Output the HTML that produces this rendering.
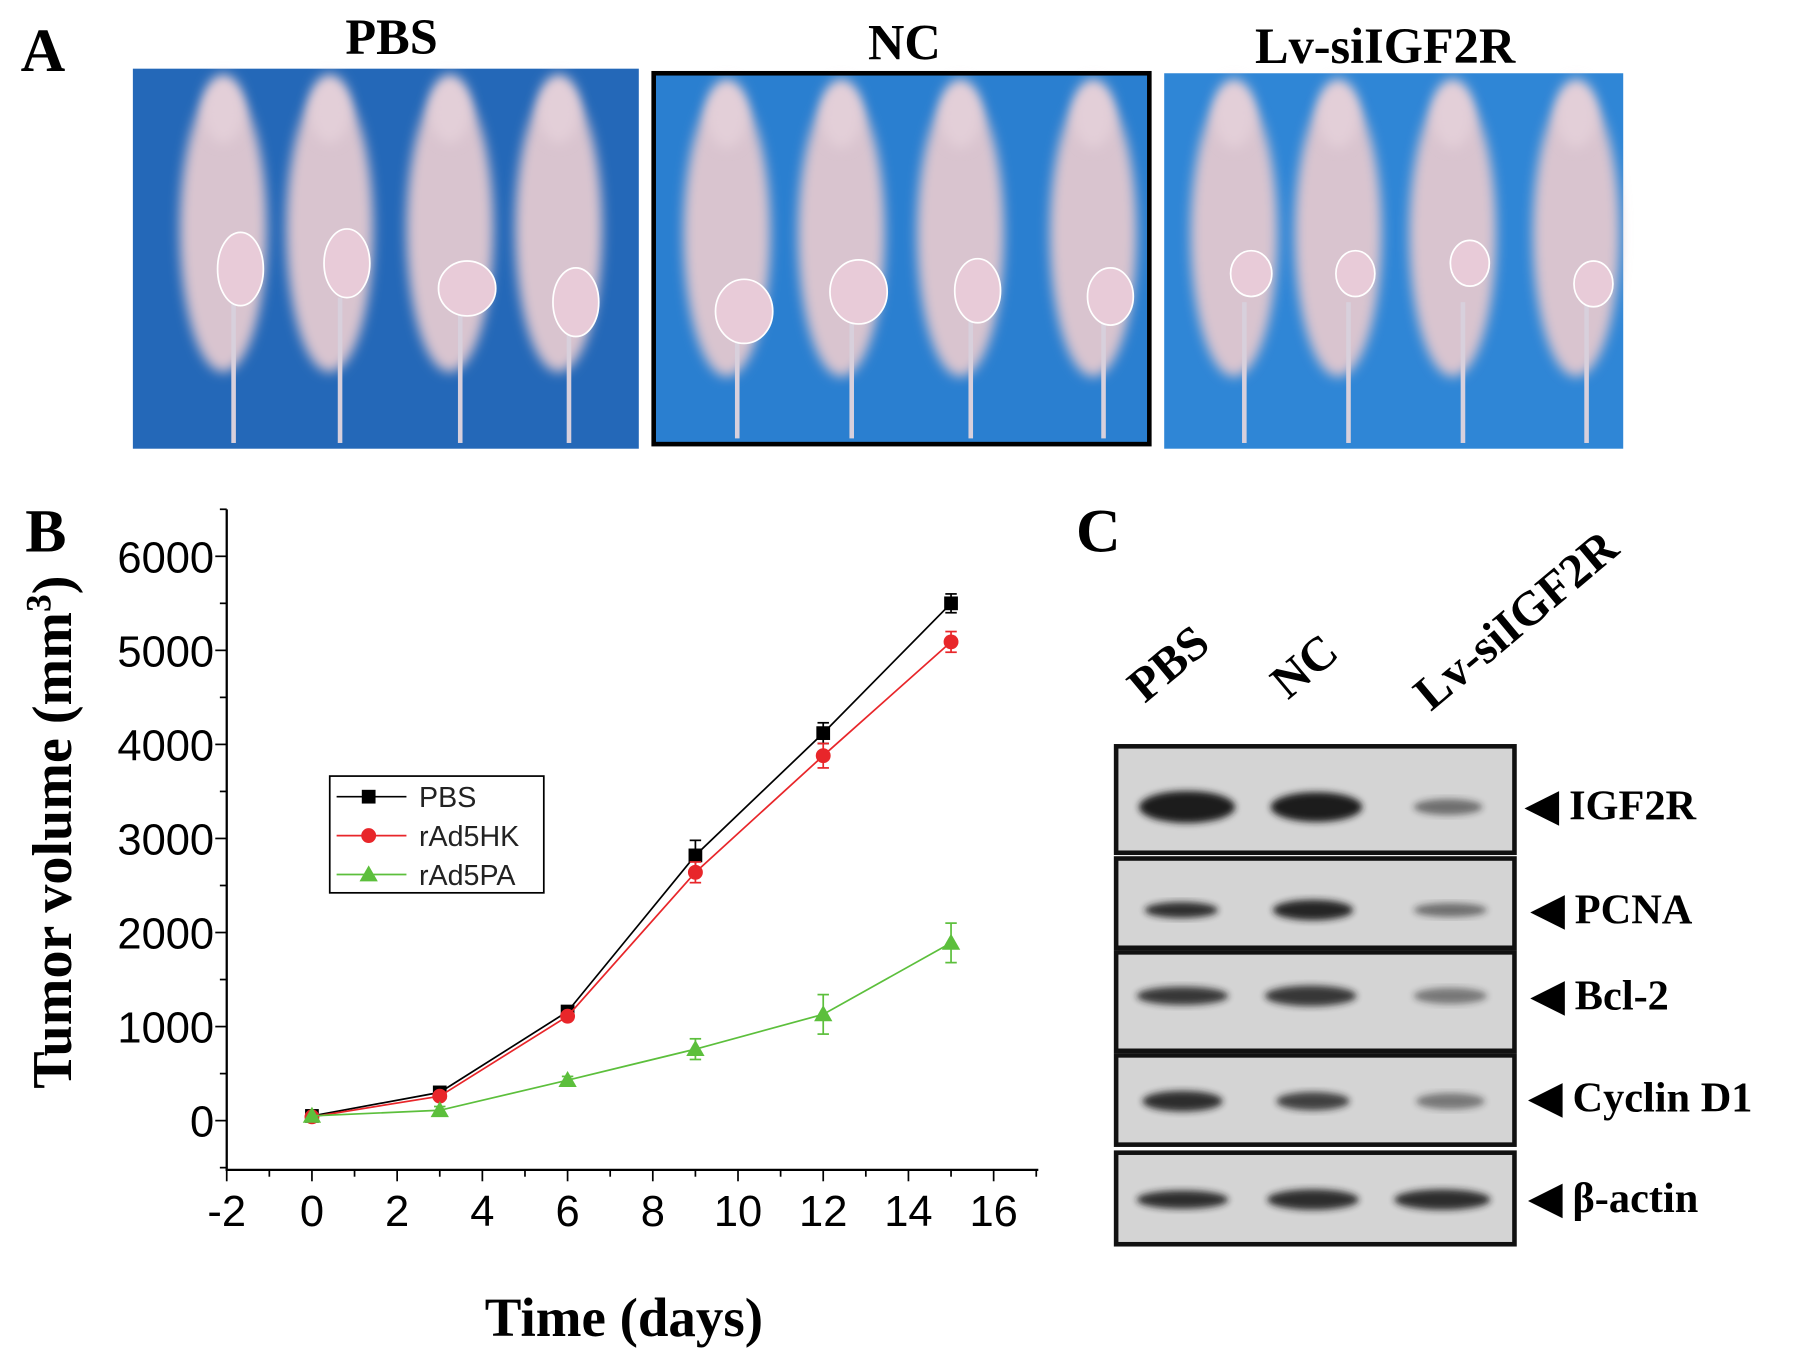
<!DOCTYPE html>
<html><head><meta charset="utf-8"><style>
html,body{margin:0;padding:0;background:#fff}
svg{display:block}
.ser{font-family:"Liberation Serif",serif;font-weight:bold}
.san{font-family:"Liberation Sans",sans-serif}
</style></head><body>
<svg id="fig" width="1795" height="1361" viewBox="0 0 1568 1189" xmlns="http://www.w3.org/2000/svg">
<defs>
<filter id="blur" x="-30%" y="-30%" width="160%" height="160%"><feGaussianBlur stdDeviation="5"/></filter>
<filter id="blur2" x="-30%" y="-30%" width="160%" height="160%"><feGaussianBlur stdDeviation="3"/></filter>
</defs>
<rect width="1568" height="1189" fill="#fff"/>
<text class="ser" x="18" y="62" font-size="54">A</text>
<text class="ser" x="342" y="47" font-size="44" text-anchor="middle">PBS</text>
<text class="ser" x="790" y="52" font-size="44" text-anchor="middle">NC</text>
<text class="ser" x="1210" y="55" font-size="44" text-anchor="middle">Lv-siIGF2R</text>
<g id="photos"></g>
<text class="ser" x="22" y="482" font-size="54">B</text>
<g id="chart"></g>
<text class="ser" x="940" y="482" font-size="54">C</text>
<g id="blots"></g>
</svg>
<script>
const days=[0,3,6,9,12,15];
const pbs=[50,300,1160,2820,4120,5500];
const hk=[40,260,1110,2640,3880,5090];
const pa=[50,110,430,760,1130,1890];
const pbsErr=[0,30,40,160,110,100];
const hkErr=[0,30,40,110,130,110];
const paErr=[0,40,40,110,210,210];
const xTicks=[-2,0,2,4,6,8,10,12,14,16];
const yTicks=[0,1000,2000,3000,4000,5000,6000];
const legendNames=["PBS","rAd5HK","rAd5PA"];

const NS="http://www.w3.org/2000/svg";
function mk(tag,attrs,parent){const e=document.createElementNS(NS,tag);for(const k in attrs)e.setAttribute(k,attrs[k]);parent.appendChild(e);return e;}
const X0=198,X1=907,Y0=445,Y1=1022;
const sx=d=>198+(d+2)*(868-198)/18;
const sy=v=>979-v*(979-486)/6000;
const g=document.getElementById('chart');

const yAxis=mk('line',{x1:X0,y1:Y0,x2:X0,y2:Y1,stroke:'#000','stroke-width':2},g);


const xAxis=mk('line',{x1:X0-1,y1:Y1,x2:X1,y2:Y1,stroke:'#000','stroke-width':2},g);


for(let d=-2;d<=17;d++){const major=d%2===0;mk('line',{x1:sx(d),y1:Y1,x2:sx(d),y2:Y1+(major?10:6),stroke:'#000','stroke-width':1.5},g);}
for(let v=-500;v<=6500;v+=500){const major=v%1000===0;mk('line',{x1:X0,y1:sy(v),x2:X0-(major?10:6),y2:sy(v),stroke:'#000','stroke-width':1.5},g);}
xTicks.forEach(d=>{const t=mk('text',{x:sx(d),y:1071,'font-size':38,'text-anchor':'middle',class:'san'},g);t.textContent=d;

});
yTicks.forEach(v=>{const t=mk('text',{x:187,y:sy(v)+14,'font-size':38,'text-anchor':'end',class:'san'},g);t.textContent=v;

});
const yt=mk('text',{x:0,y:0,'font-size':49,'text-anchor':'middle',class:'ser',transform:'translate(62,727) rotate(-90)'},g);
yt.innerHTML='Tumor volume (mm<tspan dy="-18" font-size="31">3</tspan><tspan dy="18">)</tspan>';


const xt=mk('text',{x:545,y:1167,'font-size':48,'text-anchor':'middle',class:'ser'},g);xt.textContent='Time (days)';



function marker(type,x,y,c,parent){
 if(type==='sq')return mk('rect',{x:x-6,y:y-6,width:12,height:12,fill:c},parent);
 if(type==='ci')return mk('circle',{cx:x,cy:y,r:6.5,fill:c},parent);
 return mk('path',{d:`M${x},${y-8} L${x+8},${y+6} L${x-8},${y+6} Z`,fill:c},parent);
}
const series=[[pbs,pbsErr,'#000','sq','pbs'],[hk,hkErr,'#e8262a','ci','rad5hk'],[pa,paErr,'#5cbf3c','tr','rad5pa']];
series.forEach(([vals,errs,c,m,nm])=>{
 const sg=mk('g',{},g);
 
 
 const pl=mk('polyline',{points:days.map((d,i)=>sx(d)+','+sy(vals[i])).join(' '),fill:'none',stroke:c,'stroke-width':1.5},sg);
 
 
 days.forEach((d,i)=>{
  if(errs[i]>0){const x=sx(d);mk('line',{x1:x,y1:sy(vals[i]+errs[i]),x2:x,y2:sy(vals[i]-errs[i]),stroke:c,'stroke-width':1.5},sg);
   mk('line',{x1:x-5,y1:sy(vals[i]+errs[i]),x2:x+5,y2:sy(vals[i]+errs[i]),stroke:c,'stroke-width':1.5},sg);
   mk('line',{x1:x-5,y1:sy(vals[i]-errs[i]),x2:x+5,y2:sy(vals[i]-errs[i]),stroke:c,'stroke-width':1.5},sg);}
  const p=marker(m,sx(d),sy(vals[i]),c,sg);
  
  
 });
});
const lg=mk('g',{},g);


mk('rect',{x:288,y:678,width:187,height:102,fill:'#fff',stroke:'#000','stroke-width':1.5},lg);
legendNames.forEach((n,i)=>{const y=696+i*34;const s=series[i];
 mk('line',{x1:294,y1:y,x2:355,y2:y,stroke:s[2],'stroke-width':1.5},lg);marker(s[3],322,y,s[2],lg);
 const t=mk('text',{x:366,y:y+9,'font-size':25,class:'san',fill:'#222'},lg);t.textContent=n;
 
 });

const ph=document.getElementById('photos');
const panels=[[116,60,442,332,'#2468b8',[[210,235,20,32],[303,230,20,30],[408,252,25,24],[503,264,20,30]],'pbs'],
 [571,64,433,324,'#2a7fd0',[[650,272,25,28],[750,255,25,28],[854,254,20,28],[970,259,20,25]],'nc'],
 [1017,64,401,328,'#2f86d6',[[1093,239,18,20],[1184,239,17,20],[1284,230,17,20],[1392,248,17,20]],'lv']];
panels.forEach(([x,y,w,h,c,tum,nm],pi)=>{
 const pg=mk('g',{},ph);
 
 
 mk('rect',{x,y,width:w,height:h,fill:c},pg);
 tum.forEach(([cx,cy])=>{
  mk('ellipse',{cx:cx-15,cy:y+140,rx:38,ry:125,fill:'#d9c4cf',filter:'url(#blur)'},pg);
  mk('ellipse',{cx:cx-15,cy:y+35,rx:18,ry:30,fill:'#e3cfd8',filter:'url(#blur)'},pg);
  mk('rect',{x:cx-8,y:y+200,width:4,height:h-205,fill:'#d8d0dc'},pg);
 });
 tum.forEach(([cx,cy,rx,ry])=>{const e=mk('ellipse',{cx,cy,rx,ry,fill:'#e8cbd8',stroke:'#fff','stroke-width':1.5},pg);
  
  });
 if(pi===1)mk('rect',{x,y,width:w,height:h,fill:'none',stroke:'#000','stroke-width':4},pg);
});

const bl=document.getElementById('blots');
[['PBS',1000,615],['NC',1125,612],['Lv-siIGF2R',1250,622]].forEach(([n,x,y])=>{
 const t=mk('text',{x:0,y:0,'font-size':42,class:'ser',transform:`translate(${x},${y}) rotate(-40)`},bl);t.textContent=n;
 
 });
const rows=[['IGF2R',652,93,705,[[1037,42,14,1],[1150,40,13,1],[1265,30,7,0.55]],1333,703],
 ['PCNA',750,78,795,[[1032,32,7,0.9],[1147,35,9,0.95],[1267,32,6,0.55]],1338,794],
 ['Bcl-2',832,86,870,[[1033,40,8,0.85],[1145,40,9,0.85],[1267,32,7,0.5]],1338,869],
 ['Cyclin D1',922,78,962,[[1033,35,9,0.9],[1147,32,8,0.8],[1267,30,7,0.5]],1336,958],
 ['β-actin',1007,80,1048,[[1033,40,8,0.9],[1147,40,9,0.9],[1260,42,9,0.9]],1336,1046]];
rows.forEach(([n,y,h,by,bands,lx,ly])=>{
 const rg=mk('g',{},bl);
 
 
 mk('rect',{x:975,y,width:348,height:h,fill:'#d4d4d4',stroke:'#111','stroke-width':4},rg);
 bands.forEach(([cx,rx,ry,o])=>mk('ellipse',{cx,cy:by,rx,ry,fill:'#1a1a1a',opacity:o,filter:'url(#blur2)'},rg));
 const t=mk('text',{x:lx,y:ly+13,'font-size':37,class:'ser'},rg);t.textContent='◀ '+n;
 
 
});
</script>
</body></html>
